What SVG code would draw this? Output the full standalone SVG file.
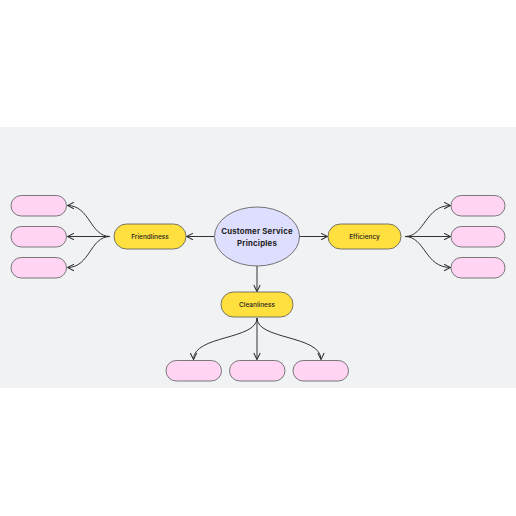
<svg xmlns="http://www.w3.org/2000/svg" width="516" height="516" viewBox="0 0 516 516">
<defs>
<marker id="arr" viewBox="0 0 10 10" refX="9" refY="5" markerWidth="8" markerHeight="8" markerUnits="userSpaceOnUse" orient="auto">
<path d="M1,1 L9,5 L1,9" fill="none" stroke="#333" stroke-width="1.3"/>
</marker>
<style>
.c{fill:none;stroke:#333;stroke-width:1;marker-end:url(#arr)}
.y{fill:#FFE03F;stroke:#555;stroke-width:0.8}
.p{fill:#FFD5F3;stroke:#5a5a5a;stroke-width:0.8}
.t{font-family:Inter,"Liberation Sans",sans-serif;fill:#222;text-anchor:middle;dominant-baseline:central}
</style>
</defs>
<rect x="0" y="127" width="516" height="261" fill="#F1F2F4"/>
<g id="connectors">
<path class="c" d="M214,236.5 L186.5,236.5"/>
<path class="c" d="M299,236.5 L327.5,236.5"/>
<path class="c" d="M257,266 L257,291.5"/>
<path class="c" d="M110,236.5 C90,236.5 90,205.5 67.5,205.5"/>
<path class="c" d="M110,236.5 L67.5,236.5"/>
<path class="c" d="M110,236.5 C90,236.5 90,267.5 67.5,267.5"/>
<path class="c" d="M405,236.5 C425,236.5 425,205.5 450.5,205.5"/>
<path class="c" d="M405,236.5 L450.5,236.5"/>
<path class="c" d="M405,236.5 C425,236.5 425,267.5 450.5,267.5"/>
<path class="c" d="M257,318 C257,340 193.5,335 193.5,359.5"/>
<path class="c" d="M257,318 L257,359.5"/>
<path class="c" d="M257,318 C257,340 321,335 321,359.5"/>
</g>
<g id="center">
<ellipse cx="257" cy="236.5" rx="42.5" ry="29.5" fill="#DEDEFF" stroke="#555" stroke-width="0.8"/>
<text class="t" x="257" y="230.5" font-size="7.8" font-weight="700" letter-spacing="0.2">Customer Service</text>
<text class="t" x="257" y="242.5" font-size="7.8" font-weight="700" letter-spacing="0.2">Principles</text>
</g>
<g id="friendliness">
<rect class="y" x="114" y="224" width="72" height="25" rx="12.5"/>
<text class="t" x="150" y="236.5" font-size="6.5" font-weight="500">Friendliness</text>
</g>
<g id="efficiency">
<rect class="y" x="328" y="224" width="73" height="25" rx="12.5"/>
<text class="t" x="364.5" y="236.5" font-size="6.5" font-weight="500">Efficiency</text>
</g>
<g id="cleanliness">
<rect class="y" x="221" y="292" width="72" height="25" rx="12.5"/>
<text class="t" x="257" y="304.5" font-size="6.5" font-weight="500">Cleanliness</text>
</g>
<g id="f1"><rect class="p" x="11" y="195.5" width="55.5" height="20.5" rx="10.25"/></g>
<g id="f2"><rect class="p" x="11" y="226.5" width="55.5" height="20.5" rx="10.25"/></g>
<g id="f3"><rect class="p" x="11" y="257.5" width="55.5" height="20.5" rx="10.25"/></g>
<g id="e1"><rect class="p" x="451" y="195.5" width="54" height="20.5" rx="10.25"/></g>
<g id="e2"><rect class="p" x="451" y="226.5" width="54" height="20.5" rx="10.25"/></g>
<g id="e3"><rect class="p" x="451" y="257.5" width="54" height="20.5" rx="10.25"/></g>
<g id="c1"><rect class="p" x="166" y="360.5" width="55.5" height="20.5" rx="10.25"/></g>
<g id="c2"><rect class="p" x="229.5" y="360.5" width="55.5" height="20.5" rx="10.25"/></g>
<g id="c3"><rect class="p" x="293" y="360.5" width="55.5" height="20.5" rx="10.25"/></g>
</svg>
